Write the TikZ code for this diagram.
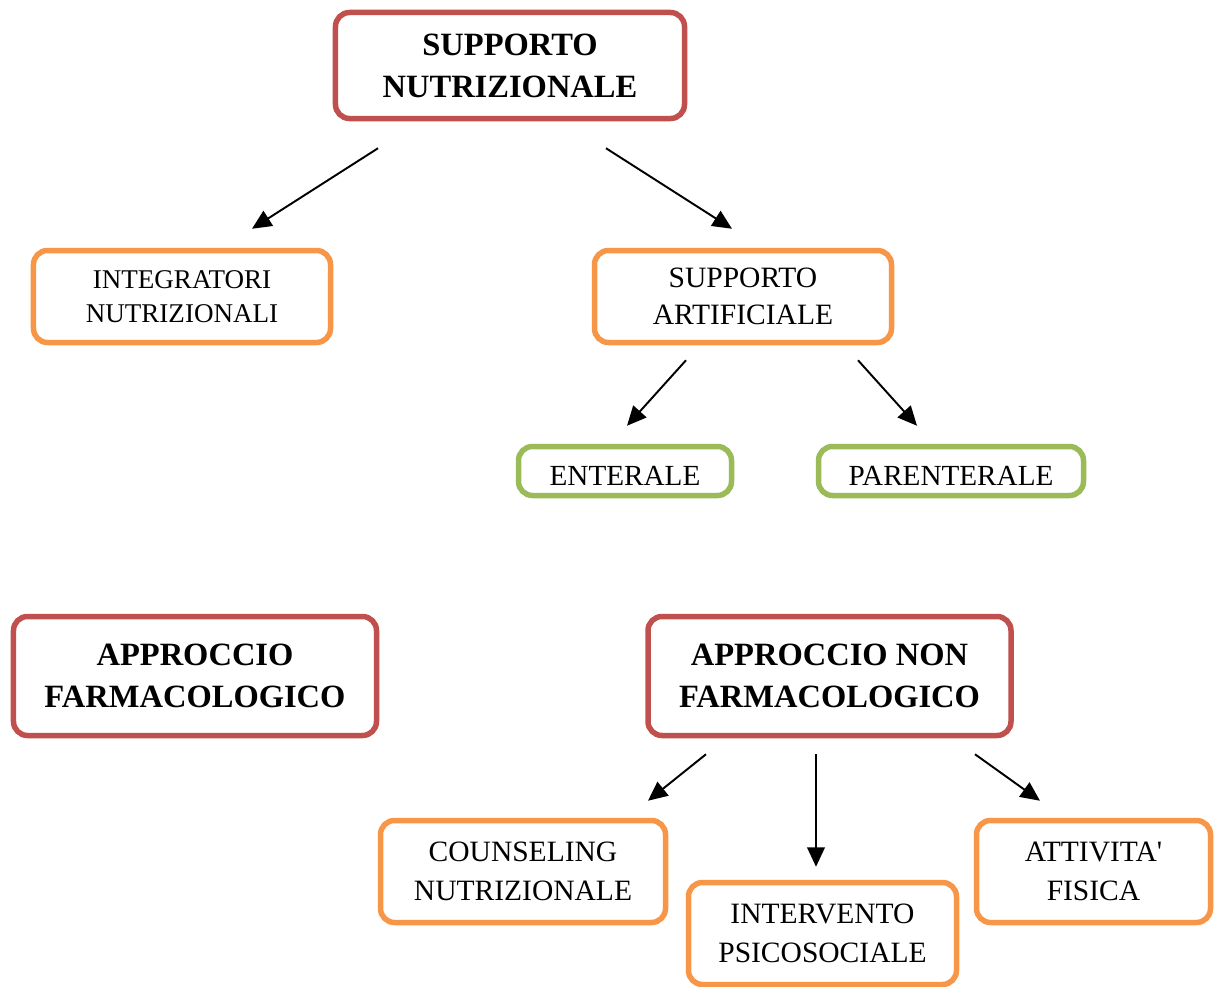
\documentclass[tikz,border=0pt]{standalone}
\usepackage{fontspec}
\setmainfont{Liberation Serif}
\usetikzlibrary{arrows.meta}
\definecolor{boxred}{HTML}{C0504D}
\definecolor{boxorange}{HTML}{F79646}
\definecolor{boxgreen}{HTML}{9BBB59}
\tikzset{
  box/.style={draw, line width=0.11cm, rounded corners=0.28cm, align=center, inner sep=0pt},
  redbox/.style={box, draw=boxred, font=\fontsize{18.5}{24}\selectfont\bfseries},
  orangebox/.style={box, draw=boxorange, font=\fontsize{15.4}{19.5}\selectfont},
  greenbox/.style={box, draw=boxgreen, font=\fontsize{16.6}{19}\selectfont},
  arr/.style={-{Triangle[length=11pt,width=10pt]}, line width=1.1pt}
}
\begin{document}
\begin{tikzpicture}[x=0.2mm, y=-0.2mm]
    \useasboundingbox (0,0) rectangle (1222,987);
    \begin{scope}
      \node[redbox, minimum width=6.98cm, minimum height=2.12cm] (sn) at (510,65.5) {SUPPORTO\\NUTRIZIONALE};
      \node[orangebox, minimum width=5.94cm, minimum height=1.84cm] (ia) at (182,296.5) {INTEGRATORI\\NUTRIZIONALI};
      \node[orangebox, minimum width=5.94cm, minimum height=1.84cm, font=\fontsize{16.8}{21}\selectfont] (sa) at (743,296.5) {SUPPORTO\\ARTIFICIALE};
      \node[greenbox, minimum width=4.26cm, minimum height=0.98cm] (en) at (625,471) {\raisebox{-0.29cm}[0pt][0pt]{ENTERALE}};
      \node[greenbox, minimum width=5.3cm, minimum height=0.98cm] (pe) at (951,471) {\raisebox{-0.29cm}[0pt][0pt]{PARENTERALE}};
    \end{scope}
    \begin{scope}
      \node[redbox, minimum width=7.26cm, minimum height=2.38cm] (af) at (195,676) {APPROCCIO\\FARMACOLOGICO};
      \node[redbox, minimum width=7.26cm, minimum height=2.38cm] (anf) at (829.5,676) {APPROCCIO NON\\FARMACOLOGICO};
      \node[orangebox, minimum width=5.7cm, minimum height=2.04cm, font=\fontsize{16.8}{22}\selectfont] (cn) at (523,871.5) {COUNSELING\\NUTRIZIONALE};
      \node[orangebox, minimum width=5.36cm, minimum height=2.04cm, font=\fontsize{16.8}{22}\selectfont] (ip) at (822.5,933.5) {INTERVENTO\\PSICOSOCIALE};
      \node[orangebox, minimum width=4.68cm, minimum height=2.04cm, font=\fontsize{16.8}{22}\selectfont] (at) at (1093.5,871.5) {ATTIVITA\textquotesingle\\FISICA};
    \end{scope}
    \draw[arr] ([shift={(-132,27)}]sn.south) -- ([shift={(70,-19)}]ia.north);
    \draw[arr] ([shift={(96,27)}]sn.south) -- ([shift={(-11,-19)}]sa.north);
    \draw[arr] ([shift={(-57,15)}]sa.south) -- ([shift={(2,-18)}]en.north);
    \draw[arr] ([shift={(115,15)}]sa.south) -- ([shift={(-34,-18)}]pe.north);
    \draw[arr] ([shift={(-123.5,16)}]anf.south) -- ([shift={(125,-17)}]cn.north);
    \draw[arr] ([shift={(-13.5,16)}]anf.south) -- ([shift={(-6.5,-13)}]ip.north);
    \draw[arr] ([shift={(145.5,16)}]anf.south) -- ([shift={(-53.5,-17)}]at.north);
\end{tikzpicture}
\end{document}
